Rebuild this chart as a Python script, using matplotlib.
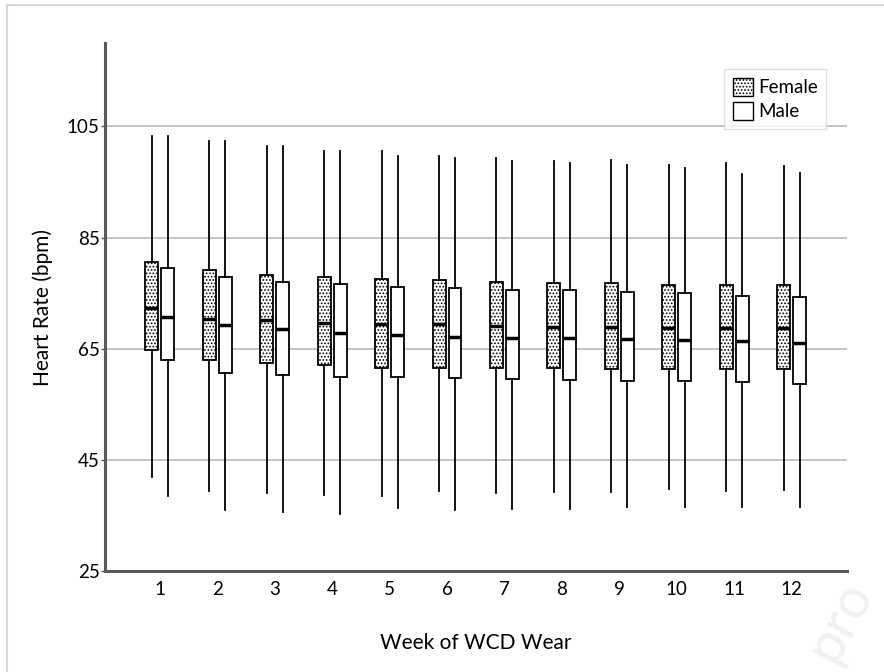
import numpy as np
import matplotlib
matplotlib.use('Agg')
import matplotlib.pyplot as plt
from matplotlib.patches import Patch, Rectangle

plt.rcParams['font.family'] = ['Lato', 'DejaVu Sans']
plt.rcParams['hatch.linewidth'] = 0.8

weeks = list(range(1, 13))

# Female: whisker low, q1, median, q3, whisker high
female_low = [41.9, 39.5, 39.0, 38.7, 38.5, 39.4, 39.1, 39.3, 39.3, 39.8, 39.4, 39.6]
female_q1 = [64.8, 62.9, 62.4, 62.1, 61.6, 61.6, 61.6, 61.6, 61.4, 61.4, 61.4, 61.4]
female_med = [72.3, 70.3, 70.1, 69.7, 69.5, 69.5, 69.1, 68.9, 68.9, 68.7, 68.7, 68.7]
female_q3 = [80.7, 79.1, 78.3, 77.9, 77.6, 77.4, 77.1, 76.9, 76.9, 76.5, 76.5, 76.5]
female_high = [103.3, 102.4, 101.4, 100.6, 100.5, 99.6, 99.3, 98.8, 98.9, 98.1, 98.4, 97.9]

# Male
male_low = [38.5, 36.0, 35.6, 35.3, 36.3, 36.0, 36.1, 36.2, 36.5, 36.6, 36.6, 36.6]
male_q1 = [62.9, 60.7, 60.2, 60.0, 59.9, 59.7, 59.5, 59.3, 59.2, 59.2, 59.0, 58.7]
male_med = [70.8, 69.2, 68.5, 67.8, 67.4, 67.2, 67.0, 67.0, 66.8, 66.5, 66.4, 66.1]
male_q3 = [79.5, 77.9, 77.1, 76.7, 76.2, 75.9, 75.5, 75.5, 75.2, 75.0, 74.5, 74.3]
male_high = [103.3, 102.4, 101.4, 100.5, 99.7, 99.4, 98.7, 98.4, 98.1, 97.5, 96.5, 96.7]

y_ticks = [25, 45, 65, 85, 105]


def make_stats(low, q1, med, q3, high):
    return [dict(whislo=a, q1=b, med=c, q3=d, whishi=e, fliers=[])
            for a, b, c, d, e in zip(low, q1, med, q3, high)]


fig = plt.figure(figsize=(8.84, 6.72), dpi=100)
ax = fig.add_axes([0.119, 0.150, 0.839, 0.786])

# light frame round the figure
fig.patches.append(Rectangle((0.008, -0.05), 1.1, 1.0426, transform=fig.transFigure,
                             fill=False, edgecolor='#d9d9d9', linewidth=1.5))

offset = 0.139
width = 0.226
pos = np.array(weeks, dtype=float)

common = dict(widths=width, showfliers=False, showcaps=False, patch_artist=True,
              whiskerprops=dict(color='black', linewidth=1.3),
              medianprops=dict(color='black', linewidth=2.5),
              manage_ticks=False, zorder=3)

bf = ax.bxp(make_stats(female_low, female_q1, female_med, female_q3, female_high),
            positions=pos - offset,
            boxprops=dict(facecolor='white', edgecolor='black', linewidth=1.3, hatch='.....'),
            **common)
bm = ax.bxp(make_stats(male_low, male_q1, male_med, male_q3, male_high),
            positions=pos + offset,
            boxprops=dict(facecolor='white', edgecolor='black', linewidth=1.3),
            **common)

ax.set_xlim(0.05, 12.96)
ax.set_ylim(25, 120)
ax.set_yticks(y_ticks)
ax.set_xticks(weeks)
ax.set_xticklabels([str(w) for w in weeks])
ax.tick_params(axis='x', length=0, labelsize=13.5, pad=7)
ax.tick_params(axis='y', length=3, width=1, color='#555555', labelsize=13.5, pad=1)

for v in y_ticks[1:]:
    ax.axhline(v, color='#bfbfbf', linewidth=1.3, zorder=1)

for s in ['top', 'right']:
    ax.spines[s].set_visible(False)
for s in ['left', 'bottom']:
    ax.spines[s].set_color('#595959')
    ax.spines[s].set_linewidth(2.2)

ax.set_xlabel('Week of WCD Wear', fontsize=15, labelpad=25)
ax.set_ylabel('Heart Rate (bpm)', fontsize=15, labelpad=10)

handles = [Patch(facecolor='white', edgecolor='black', hatch='.....', linewidth=1.0, label='Female'),
           Patch(facecolor='white', edgecolor='black', linewidth=1.0, label='Male')]
leg = ax.legend(handles=handles, loc='upper right', bbox_to_anchor=(0.985, 0.968),
                fontsize=13.5, frameon=True, fancybox=False, handlelength=1.1,
                handleheight=1.1, handletextpad=0.25, labelspacing=0.3, borderpad=0.45)
leg.get_frame().set_edgecolor('#d9d9d9')
leg.get_frame().set_linewidth(1.0)

# faint watermark
fig.text(0.95, 0.075, 'pro', fontsize=40, color='#f1f1f1', rotation=62,
         ha='center', va='center', zorder=0)

fig.savefig('out.png', dpi=100)
